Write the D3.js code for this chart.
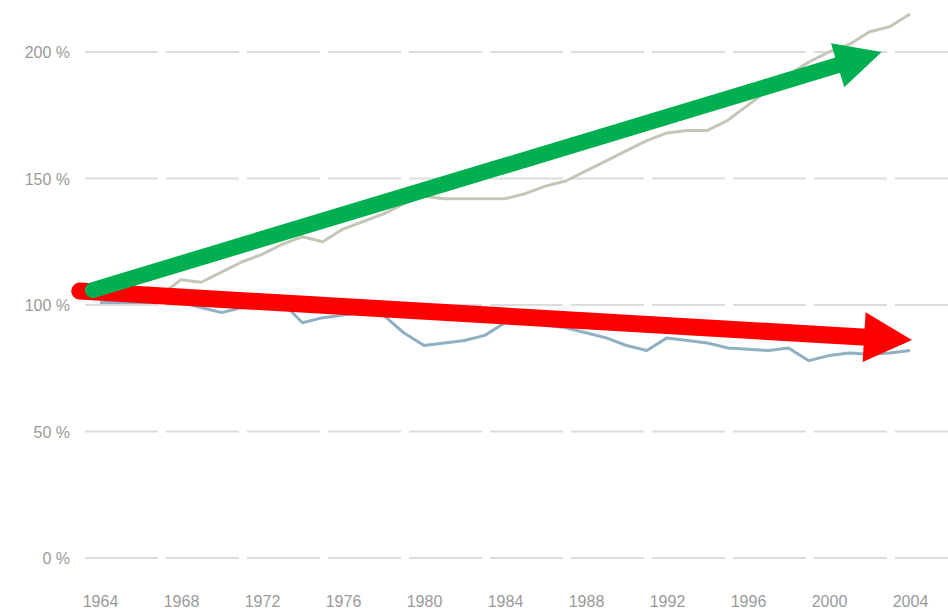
<!DOCTYPE html>
<html>
<head>
<meta charset="utf-8">
<script src="https://cdn.jsdelivr.net/npm/d3@7"></script>
<style>
  body { margin: 0; background: #fff; }
  svg { display: block; }
  .tick text { font-family: "Liberation Sans", Arial, sans-serif; font-size: 16px; fill: #9a9a9a; }
</style>
</head>
<body>
<div id="chart"></div>
<script>
// values (index, 1964 = 100 %)
const years = d3.range(1964, 2005);
const upperSeries = [101, 102, 103, 104, 110, 109, 113, 117, 120, 124,
  127, 125, 130, 133, 136, 140, 143, 142, 142, 142,
  142, 144, 147, 149, 153, 157, 161, 165, 168, 169,
  169, 173, 179, 185, 191, 196, 200, 203, 208, 210, 215];
const lowerSeries = [101, 101, 101, 101, 101, 99, 97, 99, 100, 101,
  93, 95, 96, 97, 96, 89, 84, 85, 86, 88,
  93, 93, 92, 91, 89, 87, 84, 82, 87, 86,
  85, 83, 82.5, 82, 83, 78, 80, 81, 80.5, 81, 82];
const yTicks = [0, 50, 100, 150, 200];
const xTicks = [1964, 1968, 1972, 1976, 1980, 1984, 1988, 1992, 1996, 2000, 2004];

// annotation arrows, in data units: [year, percent]
const greenArrow = [[1963.65, 105.9], [2002.6, 200]];
const redArrow = [[1963.0, 105.5], [2004.1, 86.2]];

const width = 948, height = 611;

const x = d3.scaleLinear().domain([1964, 2004]).range([100, 910]);
const y = d3.scaleLinear().domain([0, 200]).range([558, 52]);

const svg = d3.select('#chart').append('svg')
  .attr('width', width)
  .attr('height', height);

// y axis: labels + dashed grid lines
const yAxis = d3.axisLeft(y).tickValues(yTicks).tickSize(0).tickPadding(0)
  .tickFormat(d => d + ' %');
const gy = svg.append('g').attr('transform', 'translate(70,0)').call(yAxis);
gy.select('.domain').remove();
gy.selectAll('.tick text').attr('dy', '0.36em');

svg.append('g').selectAll('line')
  .data(yTicks)
  .enter().append('line')
  .attr('x1', 85).attr('x2', width)
  .attr('y1', d => y(d)).attr('y2', d => y(d))
  .attr('stroke', '#dcdcdc')
  .attr('stroke-width', 2.2)
  .attr('stroke-dasharray', '73 8');

// x axis labels
const xAxis = d3.axisBottom(x).tickValues(xTicks).tickSize(0).tickPadding(0)
  .tickFormat(d3.format('d'));
const gx = svg.append('g').attr('transform', 'translate(0,596)').call(xAxis);
gx.select('.domain').remove();

// data lines
const line = d3.line()
  .x((d, i) => x(years[i]))
  .y(d => y(d));

svg.append('path')
  .datum(upperSeries)
  .attr('fill', 'none')
  .attr('stroke', '#c4c7b8')
  .attr('stroke-width', 3)
  .attr('stroke-linejoin', 'round')
  .attr('d', line);

svg.append('path')
  .datum(lowerSeries)
  .attr('fill', 'none')
  .attr('stroke', '#8fb0c2')
  .attr('stroke-width', 3)
  .attr('stroke-linejoin', 'round')
  .attr('d', line);

// arrows drawn over the chart
function drawArrow(pts, color, shaft, headLen, headHalf) {
  const x0 = x(pts[0][0]), y0 = y(pts[0][1]);
  const x1 = x(pts[1][0]), y1 = y(pts[1][1]);
  const dx = x1 - x0, dy = y1 - y0;
  const len = Math.sqrt(dx * dx + dy * dy);
  const ux = dx / len, uy = dy / len;
  const bx = x1 - ux * headLen, by = y1 - uy * headLen;

  svg.append('line')
    .attr('x1', x0).attr('y1', y0)
    .attr('x2', bx + ux * 2).attr('y2', by + uy * 2)
    .attr('stroke', color)
    .attr('stroke-width', shaft)
    .attr('stroke-linecap', 'round');

  svg.append('path')
    .attr('d', 'M' + x1 + ',' + y1 +
      'L' + (bx - uy * headHalf) + ',' + (by + ux * headHalf) +
      'L' + (bx + uy * headHalf) + ',' + (by - ux * headHalf) + 'Z')
    .attr('fill', color);
}

drawArrow(redArrow, '#ff0000', 17, 48, 25);
drawArrow(greenArrow, '#00b050', 16, 46, 23);
</script>
</body>
</html>
